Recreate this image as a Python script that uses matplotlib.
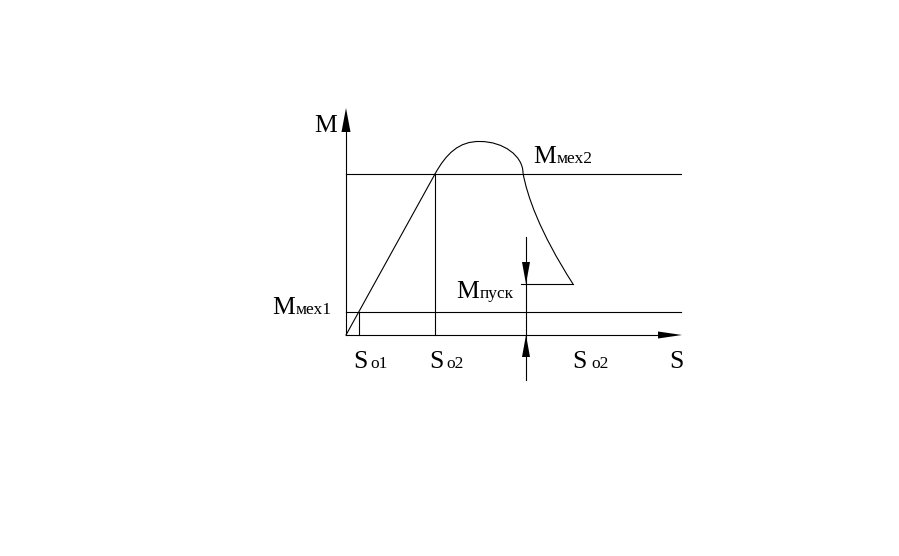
import matplotlib.pyplot as plt
from matplotlib.path import Path
from matplotlib.patches import PathPatch

plt.rcParams['font.family'] = ['Liberation Serif', 'DejaVu Serif']

# schematic values (diagram units, origin at S=0, M=0)
s_o1 = 13
s_o2 = 89
s_pusk = 180
s_end = 336
m_top = 227
m_mex1 = 23
m_mex2 = 161
m_pusk = 51

# characteristic curve: straight rise, hump, falling tail (bezier control points)
line_s = [0, 89]
line_m = [0, 161]
hump_left = [(89, 161), (100, 181), (113, 194), (134, 193.5)]
hump_right = [(134, 193.5), (157.5, 193.5), (177, 179), (177, 162)]
tail = [(177, 162), (181, 140), (193, 104), (227, 51)]

fig = plt.figure(figsize=(8.99, 5.56), dpi=100)
ax = fig.add_axes([0, 0, 1, 1])
ax.set_xlim(-346, 553)
ax.set_ylim(-221, 335)
ax.axis('off')

lw = 0.8
k = 'black'

# axes
ax.plot([0, 0], [0, m_top - 20], color=k, lw=lw)
ax.plot([0, s_end - 20], [0, 0], color=k, lw=lw)
ax.fill([-4.5, 0, 4.5], [203, m_top, 203], color=k, lw=0)
ax.fill([312, s_end, 312], [3.5, 0, -3.5], color=k, lw=0)

# level lines
ax.plot([0, s_end - 1], [m_mex2, m_mex2], color=k, lw=lw)
ax.plot([0, s_end - 1], [m_mex1, m_mex1], color=k, lw=lw)
ax.plot([s_o1, s_o1], [0, m_mex1], color=k, lw=lw)
ax.plot([s_o2, s_o2], [0, m_mex2], color=k, lw=lw)

# curve
ax.plot(line_s, line_m, color=k, lw=lw)
for seg in (hump_left, hump_right, tail):
    codes = [Path.MOVETO, Path.CURVE4, Path.CURVE4, Path.CURVE4]
    ax.add_patch(PathPatch(Path(seg, codes), fill=False, edgecolor=k, lw=lw))
ax.plot([175, tail[-1][0]], [m_pusk, m_pusk], color=k, lw=lw)

# starting moment marker with arrows
ax.plot([s_pusk, s_pusk], [98, -45], color=k, lw=lw)
ax.fill([s_pusk - 4, s_pusk, s_pusk + 4], [73, m_pusk, 73], color=k, lw=0)
ax.fill([s_pusk - 4, s_pusk, s_pusk + 4], [-22, 0, -22], color=k, lw=0)

big = 18.5
small = 12.5

def label(x, y, main, sub, gap):
    ax.text(x, y, main, fontsize=big, va='baseline', ha='left')
    if sub:
        ax.text(x + gap, y, sub, fontsize=small, va='baseline', ha='left')

label(-32, 203, 'M', '', 0)
label(187, 172, 'M', 'мех2', 24)
label(-74, 21, 'M', 'мех1', 24)
label(110, 37, 'M', 'пуск', 24)
label(7, -33, 'S', 'o1', 17)
label(83, -33, 'S', 'o2', 17)
label(226, -33, 'S', 'o2', 19)
label(323, -33, 'S', '', 0)

fig.savefig('out.png', dpi=100)
